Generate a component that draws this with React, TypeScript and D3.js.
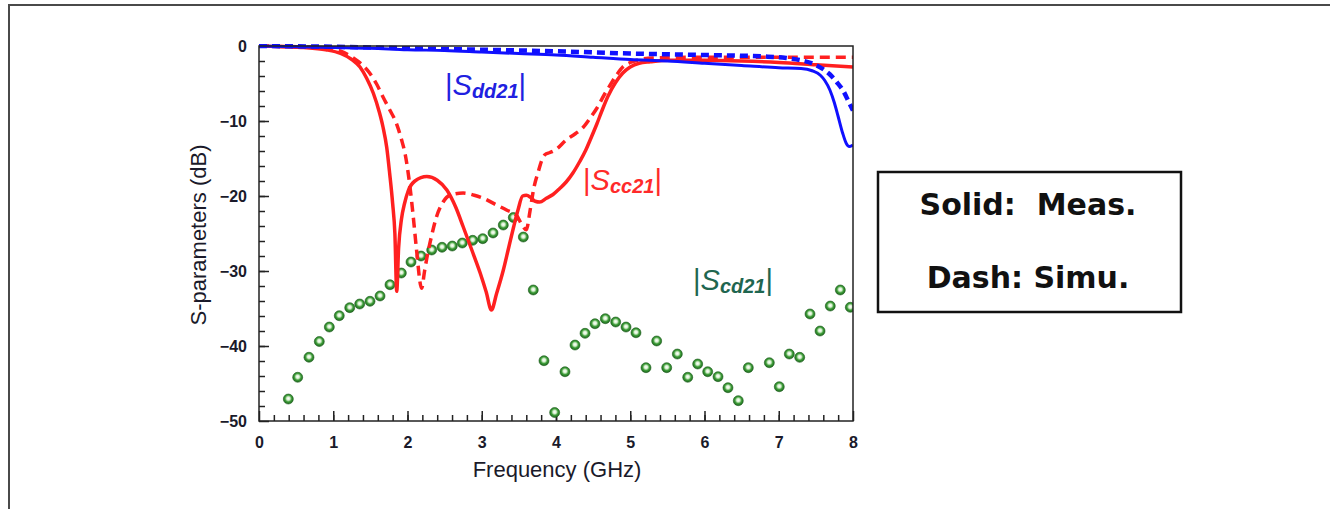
import React, { useEffect, useRef } from "react";
import * as d3 from "d3";

const W = 1330;
const H = 509;

// |Sdd21| measured (solid blue)
const ddMeasFreq = [0, 0.5, 1, 1.5, 2, 2.5, 3, 3.5, 4, 4.5, 5, 5.5, 6, 6.5, 7, 7.3, 7.45, 7.56, 7.62, 7.69, 7.75, 7.8, 7.86, 7.91, 7.95, 8];
const ddMeasDb = [0, -0.1, -0.2, -0.3, -0.5, -0.6, -0.8, -1.0, -1.2, -1.5, -1.8, -2.0, -2.3, -2.6, -2.9, -3.0, -3.3, -3.9, -4.6, -5.9, -7.6, -9.4, -11.6, -13.0, -13.4, -13.2];

// |Sdd21| simulated (dashed blue)
const ddSimFreq = [0, 1, 2, 3, 4, 5, 6, 6.8, 7.1, 7.3, 7.47, 7.6, 7.69, 7.78, 7.87, 7.94, 8];
const ddSimDb = [0, -0.1, -0.3, -0.5, -0.7, -1.0, -1.2, -1.4, -1.6, -1.9, -2.4, -3.1, -3.8, -4.8, -6.0, -7.4, -8.6];

// |Scc21| measured (solid red)
const ccMeasFreq = [0, 0.3, 0.6, 0.9, 1.1, 1.25, 1.36, 1.45, 1.54, 1.62, 1.67, 1.72, 1.76, 1.8, 1.83, 1.855, 1.88, 1.92, 1.96, 2.01, 2.1, 2.26, 2.4, 2.53, 2.65, 2.75, 2.87, 2.98, 3.06, 3.13, 3.2, 3.29, 3.36, 3.43, 3.49, 3.55, 3.6, 3.66, 3.72, 3.78, 3.87, 3.96, 4.05, 4.14, 4.23, 4.32, 4.4, 4.47, 4.55, 4.62, 4.7, 4.8, 4.9, 5.0, 5.12, 5.27, 5.5, 6, 6.5, 7, 7.5, 8];
const ccMeasDb = [0, -0.1, -0.2, -0.5, -1.0, -1.8, -2.8, -4.3, -6.3, -8.8, -10.8, -13.5, -17, -21, -25, -32.7, -27, -23, -21, -19.3, -18, -17.4, -17.9, -19.2, -21.5, -24.1, -27.3, -30.3, -32.8, -35.2, -33, -29.9, -27, -24.1, -21.8, -20, -19.9, -20.2, -20.7, -20.8, -20.3, -19.8, -19.0, -18.1, -16.9, -15.4, -13.9, -12.3, -10.4, -8.6, -6.7, -4.9, -3.6, -2.8, -2.3, -2.1, -1.9, -1.9, -2.0, -2.2, -2.5, -2.8];

// |Scc21| simulated (dashed red)
const ccSimFreq = [0, 0.5, 0.9, 1.1, 1.27, 1.4, 1.49, 1.58, 1.67, 1.76, 1.85, 1.92, 1.97, 2.03, 2.08, 2.12, 2.19, 2.23, 2.26, 2.32, 2.39, 2.48, 2.57, 2.75, 2.9, 3.02, 3.2, 3.34, 3.47, 3.55, 3.6, 3.65, 3.7, 3.76, 3.81, 3.85, 3.92, 4.0, 4.14, 4.26, 4.37, 4.46, 4.55, 4.65, 4.73, 4.82, 4.9, 5.0, 5.13, 5.3, 6, 7, 8];
const ccSimDb = [0, -0.1, -0.3, -0.7, -1.6, -2.6, -3.6, -5.0, -6.8, -8.5, -10.3, -12.5, -14.5, -18.5, -23, -27, -32.3, -30, -28.3, -25.5, -22.8, -20.8, -19.9, -19.6, -19.9, -20.3, -21.2, -21.9, -22.6, -24, -24.5, -22, -19, -16.8, -15.2, -14.5, -14.2, -13.8, -12.5, -11.7, -10.8, -9.6, -8.3, -6.5, -5.2, -3.8, -2.8, -2.2, -1.8, -1.6, -1.5, -1.5, -1.5];

// |Scd21| (green dots)
const cdFreq = [0.395, 0.521, 0.673, 0.812, 0.947, 1.081, 1.222, 1.356, 1.495, 1.63, 1.764, 1.917, 2.047, 2.182, 2.326, 2.465, 2.603, 2.738, 2.878, 3.013, 3.152, 3.29, 3.425, 3.56, 3.694, 3.838, 3.982, 4.121, 4.256, 4.391, 4.525, 4.664, 4.804, 4.943, 5.077, 5.212, 5.356, 5.491, 5.634, 5.774, 5.908, 6.043, 6.182, 6.316, 6.455, 6.59, 6.873, 7.007, 7.142, 7.282, 7.421, 7.556, 7.694, 7.829, 7.964];
const cdDb = [-47.07, -44.17, -41.5, -39.4, -37.47, -35.96, -34.89, -34.4, -34.04, -33.33, -31.83, -30.27, -28.8, -28.0, -27.2, -26.84, -26.67, -26.27, -25.91, -25.69, -24.93, -23.87, -22.87, -25.47, -32.53, -41.96, -48.87, -43.43, -39.87, -38.31, -37.03, -36.36, -36.8, -37.47, -38.23, -42.89, -39.33, -42.89, -41.07, -44.17, -42.4, -43.43, -44.09, -45.56, -47.29, -42.89, -42.23, -45.43, -41.07, -41.51, -35.73, -38.0, -34.67, -32.53, -34.84];

const xTicks = [0, 1, 2, 3, 4, 5, 6, 7, 8];
const yTicks = [0, -10, -20, -30, -40, -50];

export default function App() {
  const ref = useRef<SVGSVGElement>(null);

  useEffect(() => {
    const svg = d3.select(ref.current);
    svg.selectAll("*").remove();

    const x = d3.scaleLinear().domain([0, 8]).range([259, 853]);
    const y = d3.scaleLinear().domain([-50, 0]).range([421, 46]);

    // outer frame
    svg.append("line").attr("x1", 9).attr("x2", W).attr("y1", 5).attr("y2", 5)
      .attr("stroke", "#4a4a4a").attr("stroke-width", 2);
    svg.append("line").attr("x1", 9).attr("x2", 9).attr("y1", 4).attr("y2", H)
      .attr("stroke", "#4a4a4a").attr("stroke-width", 2);

    // gradient for dots
    const defs = svg.append("defs");
    const grad = defs.append("radialGradient").attr("id", "ball")
      .attr("cx", "50%").attr("cy", "45%").attr("r", "55%");
    grad.append("stop").attr("offset", "0%").attr("stop-color", "#ffffff");
    grad.append("stop").attr("offset", "30%").attr("stop-color", "#d8f0d0");
    grad.append("stop").attr("offset", "60%").attr("stop-color", "#3f9e3a");
    grad.append("stop").attr("offset", "100%").attr("stop-color", "#1b641b");

    // ticks
    const tickStyle = (g: any) => {
      g.select(".domain").remove();
      g.selectAll("line").attr("stroke", "#222").attr("stroke-width", 1.5);
      g.selectAll("text").attr("font-family", "Liberation Sans, Arial, sans-serif")
        .attr("font-weight", "bold").attr("font-size", 16).attr("fill", "#1a1a2a");
    };

    svg.append("g").attr("transform", "translate(259,0)")
      .call(d3.axisLeft(y).tickValues(d3.range(-48, 0, 2)).tickSize(-6).tickFormat(() => ""))
      .call(tickStyle);
    svg.append("g").attr("transform", "translate(259,0)")
      .call(d3.axisLeft(y).tickValues(yTicks).tickSize(-10).tickPadding(12).tickFormat(d3.format("d")))
      .call(tickStyle);
    svg.append("g").attr("transform", "translate(0,421)")
      .call(d3.axisBottom(x).tickValues(d3.range(0.2, 8, 0.2)).tickSize(-6).tickFormat(() => ""))
      .call(tickStyle);
    svg.append("g").attr("transform", "translate(0,421)")
      .call(d3.axisBottom(x).tickValues(xTicks).tickSize(-10).tickPadding(16).tickFormat(d3.format("d")))
      .call(tickStyle);

    // axis titles
    svg.append("text").attr("x", 557).attr("y", 477).attr("text-anchor", "middle")
      .attr("font-family", "Liberation Sans, Arial, sans-serif").attr("font-size", 22)
      .attr("fill", "#1a1a2a").text("Frequency (GHz)");
    svg.append("text").attr("transform", "translate(206,235) rotate(-90)").attr("text-anchor", "middle")
      .attr("font-family", "Liberation Sans, Arial, sans-serif").attr("font-size", 22)
      .attr("fill", "#1a1a2a").text("S-parameters (dB)");

    // clip to plot area
    defs.append("clipPath").attr("id", "plot").append("rect")
      .attr("x", 259).attr("y", 44).attr("width", 594).attr("height", 377);
    const plot = svg.append("g").attr("clip-path", "url(#plot)");

    // green dots
    plot.selectAll("circle").data(cdDb).enter().append("circle")
      .attr("cx", (_, i) => x(cdFreq[i])).attr("cy", (d) => y(d)).attr("r", 5)
      .attr("fill", "url(#ball)").attr("stroke", "#1d5e1d").attr("stroke-width", 0.6);

    const mk = (fs: number[]) => d3.line<number>()
      .x((_, i) => x(fs[i])).y((d) => y(d)).curve(d3.curveMonotoneX);

    plot.append("path").attr("d", mk(ccSimFreq)(ccSimDb))
      .attr("fill", "none").attr("stroke", "#ff2020").attr("stroke-width", 3.5).attr("stroke-dasharray", "10,6");
    plot.append("path").attr("d", mk(ccMeasFreq)(ccMeasDb))
      .attr("fill", "none").attr("stroke", "#ff2020").attr("stroke-width", 3.5);
    plot.append("path").attr("d", mk(ddSimFreq)(ddSimDb))
      .attr("fill", "none").attr("stroke", "#1010ff").attr("stroke-width", 4.5).attr("stroke-dasharray", "8,5");
    plot.append("path").attr("d", mk(ddMeasFreq)(ddMeasDb))
      .attr("fill", "none").attr("stroke", "#1010ff").attr("stroke-width", 3);

    // frame
    svg.append("rect").attr("x", 259).attr("y", 46).attr("width", 594).attr("height", 375)
      .attr("fill", "none").attr("stroke", "#222").attr("stroke-width", 1.5);

    // series labels
    const label = (px: number, py: number, sub: string, color: string) => {
      const t = svg.append("text").attr("x", px).attr("y", py)
        .attr("font-family", "Liberation Sans, Arial, sans-serif").attr("fill", color);
      t.append("tspan").attr("font-size", 29).text("|");
      t.append("tspan").attr("font-size", 29).attr("font-style", "italic").text("S");
      t.append("tspan").attr("font-size", 20).attr("font-style", "italic").attr("font-weight", "bold")
        .attr("dy", 3).text(sub);
      t.append("tspan").attr("font-size", 29).attr("dy", -3).text("|");
    };
    label(445, 95, "dd21", "#2020e0");
    label(583, 190, "cc21", "#ff2a2a");
    label(693, 290, "cd21", "#1f6650");

    // legend box
    svg.append("rect").attr("x", 878).attr("y", 172).attr("width", 303).attr("height", 140)
      .attr("fill", "#fff").attr("stroke", "#111").attr("stroke-width", 2.5);
    const lg = (ty: number, s: string) => svg.append("text").attr("x", 1028).attr("y", ty)
      .attr("text-anchor", "middle").attr("font-family", "DejaVu Sans, Verdana, sans-serif")
      .attr("font-weight", "bold").attr("font-size", 30).attr("fill", "#111")
      .style("white-space", "pre").text(s);
    lg(215, "Solid:  Meas.");
    lg(288, "Dash: Simu.");
  }, []);

  return (
    <svg ref={ref} width={W} height={H}
      style={{ position: "absolute", left: 0, top: 0, background: "#fff" }} />
  );
}
